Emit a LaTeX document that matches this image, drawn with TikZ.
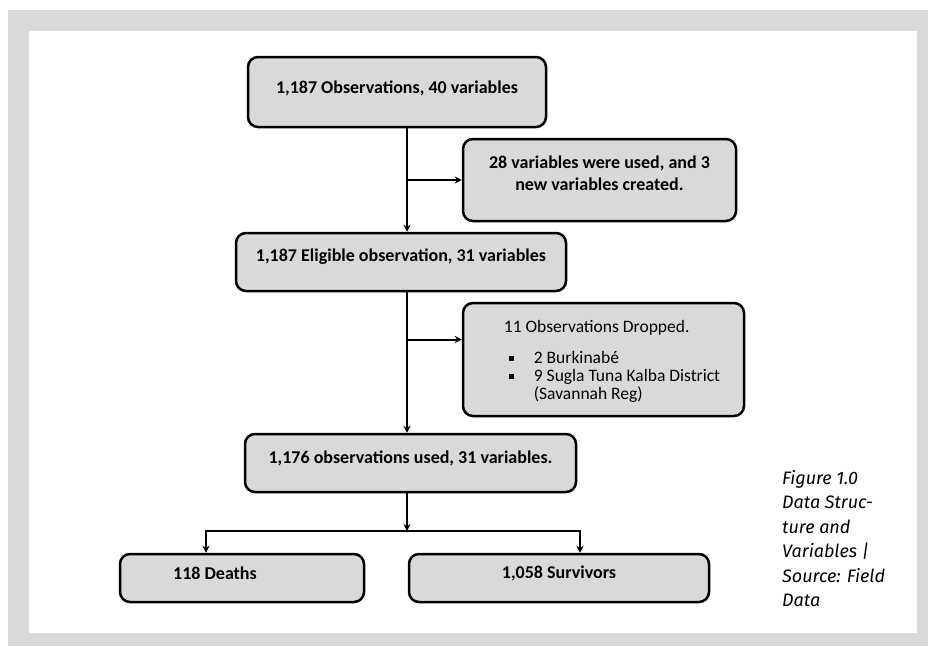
\documentclass[tikz,border=0pt]{standalone}
\usepackage{fontspec}
\setmainfont{Carlito}
\newfontfamily\capfont{Fira Sans}
\usetikzlibrary{arrows.meta}
\definecolor{panelgray}{HTML}{D9D9D9}
\newcommand{\lifted}[2]{\raisebox{#1}[\height][\depth]{#2}}
\tikzset{box/.style={draw, line width=2.5pt, rounded corners=10pt,
    fill=panelgray, align=center,
    font=\fontsize{18}{22}\selectfont\bfseries},
  link/.style={line width=2pt, ->},
  }

\begin{document}
\begin{tikzpicture}[x=1pt, y=-1pt, >={Stealth[length=7pt,width=7pt]}]
	\useasboundingbox (0,0) rectangle (928,646);
	% frame
	\fill[panelgray] (8,10) rectangle (928,646);
	\fill[white] (29,31) rectangle (917,633);
	% boxes
	\node[box, minimum width=298pt, minimum height=70pt] (obsAll) at (397,92) {\lifted{4pt}{1,187 Observations, 40 variables}};
	\node[box, minimum width=273pt, minimum height=82pt] (varUsed) at (599.5,180)
		{\lifted{5pt}{\begin{tabular}{@{}c@{}}28 variables were used, and 3\\new variables created.\end{tabular}}};
	\node[box, minimum width=330pt, minimum height=58pt] (eligible) at (401,262) {\lifted{5pt}{1,187 Eligible observation, 31 variables}};
	\node[box, minimum width=281pt, minimum height=113pt, font=\fontsize{17.5}{18}\selectfont] (dropped) at (603.5,359.5) {%
		\lifted{-3pt}{\hspace*{17pt}\begin{tabular}{@{}l@{\hspace{20pt}}l@{}}
		\multicolumn{2}{@{}l@{}}{11 Observations Dropped.}\\[13pt]
		\hspace*{5pt}\raisebox{2.5pt}{\rule{5pt}{5pt}} & 2 Burkinabé\\
		\hspace*{5pt}\raisebox{2.5pt}{\rule{5pt}{5pt}} & 9 Sugla Tuna Kalba District\\
		 & (Savannah Reg)
		\end{tabular}}};
	\node[box, minimum width=331pt, minimum height=58pt] (used) at (410.5,463) {\lifted{5pt}{1,176 observations used, 31 variables.}};
	\node[box, minimum width=244pt, minimum height=48pt] (deaths) at (242,578) {\lifted{5pt}{118 Deaths}\hspace*{54pt}};
	\node[box, minimum width=300pt, minimum height=48pt] (survivors) at (559,578) {\lifted{5pt}{1,058 Survivors}};
	% caption
	\node[anchor=north west, align=left, inner sep=0pt,
		font=\capfont\itshape\fontsize{18}{24.5}\selectfont] (caption) at (782,470)
		{Figure 1.0\\Data Struc-\\ture and\\Variables |\\Source: Field\\Data};
	% connectors
	\coordinate (spine) at (407,0);
	\coordinate (split) at (407,531);
	\coordinate (dropIn) at ([yshift=20pt]dropped.west);
	\draw[link] (obsAll.south -| spine) -- (eligible.north -| spine);
	\draw[link] (spine |- varUsed.west) -- (varUsed.west);
	\draw[link] (eligible.south -| spine) -- (used.north -| spine);
	\draw[link] (spine |- dropIn) -- (dropIn);
	\draw[link] (used.south -| spine) -- (split);
	\draw[link] (split) -| ([xshift=-36pt]deaths.north);
	\draw[link] (split) -| ([xshift=21pt]survivors.north);
\end{tikzpicture}
\end{document}
